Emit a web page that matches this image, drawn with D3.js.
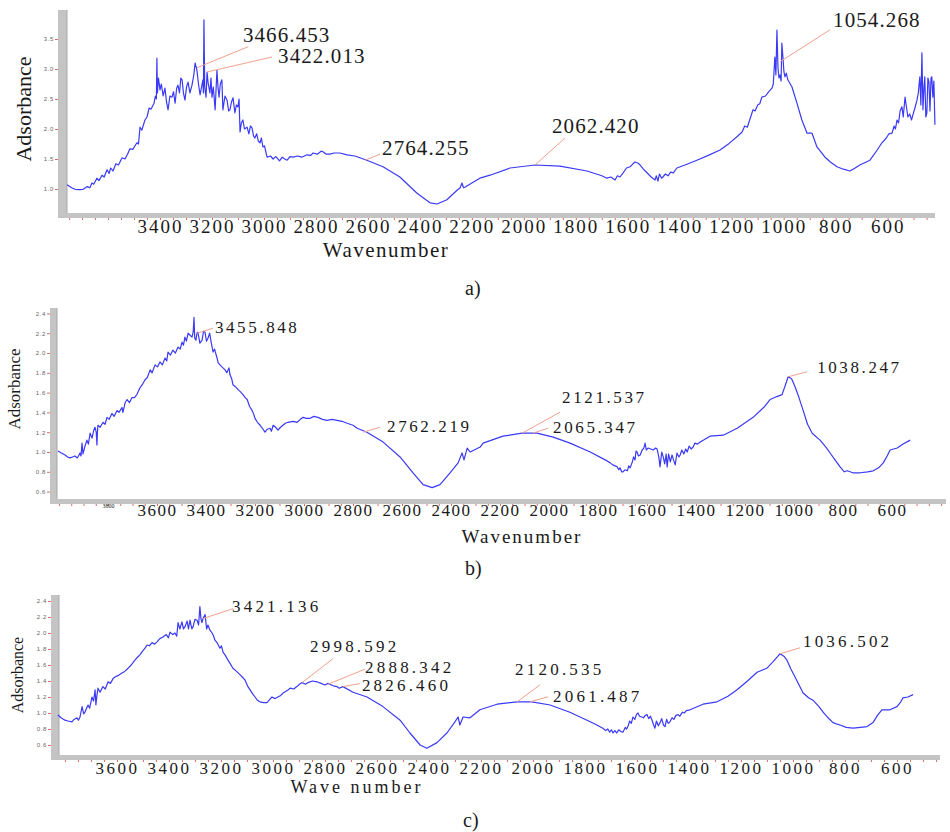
<!DOCTYPE html>
<html>
<head>
<meta charset="utf-8">
<script src="https://cdn.jsdelivr.net/npm/d3@7"></script>
<style>
  body { margin: 0; background: #fff; }
</style>
</head>
<body>
<script>
var SERIF = "'Liberation Serif', 'Times New Roman', 'DejaVu Serif', serif";

// Spectra: [wavenumber, absorbance]
var spectrumA = [
  [3758,1.07],[3740,1.02],[3727,0.995],[3710,0.99],[3696,0.995],[3680,1.04],[3670,1.02],[3662,1.10],
  [3655,1.08],[3643,1.18],[3635,1.14],[3623,1.23],[3615,1.20],[3604,1.32],[3596,1.26],[3590,1.35],
  [3581,1.30],[3570,1.42],[3560,1.40],[3546,1.52],[3535,1.50],[3525,1.58],[3516,1.67],[3505,1.66],
  [3489,1.77],[3483,1.75],[3477,2.03],[3470,1.98],[3458,2.15],[3450,2.20],[3442,2.35],[3435,2.33],
  [3423,2.43],[3418,2.55],[3414,2.50],[3412,3.18],[3410,2.60],[3406,2.85],[3400,2.65],[3395,2.75],
  [3388,2.55],[3381,2.68],[3375,2.45],[3369,2.32],[3362,2.55],[3354,2.53],[3348,2.62],[3342,2.43],
  [3336,2.68],[3331,2.73],[3325,2.60],[3320,2.85],[3315,2.82],[3310,2.60],[3304,2.48],[3298,2.70],
  [3292,2.78],[3285,2.60],[3277,2.73],[3270,2.90],[3265,3.10],[3258,2.98],[3252,2.75],[3246,2.57],
  [3240,2.70],[3235,2.82],[3233,2.60],[3231,3.82],[3228,2.70],[3223,2.53],[3219,2.95],[3215,2.77],
  [3208,2.60],[3204,2.85],[3200,2.53],[3195,2.70],[3188,2.32],[3185,2.60],[3181,2.98],[3177,2.70],
  [3173,2.53],[3168,2.75],[3162,2.82],[3158,2.32],[3150,2.55],[3142,2.48],[3136,2.30],[3131,2.32],
  [3125,2.45],[3119,2.52],[3112,2.27],[3106,2.40],[3100,2.37],[3096,2.50],[3092,1.95],[3087,2.10],
  [3081,2.15],[3075,2.00],[3065,2.03],[3058,1.92],[3052,2.05],[3046,2.02],[3040,1.88],[3035,1.85],
  [3028,1.92],[3022,1.80],[3015,1.77],[3010,1.85],[3004,1.70],[2998,1.72],[2988,1.53],[2975,1.55],
  [2965,1.50],[2955,1.54],[2950,1.52],[2940,1.47],[2930,1.53],[2920,1.50],[2911,1.48],[2900,1.54],
  [2888,1.53],[2870,1.55],[2855,1.53],[2834,1.57],[2820,1.56],[2811,1.60],[2795,1.58],[2780,1.63],
  [2773,1.62],[2760,1.58],[2746,1.58],[2730,1.60],[2708,1.60],[2680,1.57],[2650,1.55],[2604,1.48],
  [2542,1.37],[2477,1.20],[2411,0.93],[2361,0.77],[2334,0.75],[2296,0.82],[2257,0.98],[2245,1.02],
  [2238,1.10],[2232,1.02],[2227,1.03],[2200,1.10],[2169,1.18],[2130,1.23],[2053,1.35],[1957,1.40],
  [1861,1.38],[1757,1.30],[1700,1.22],[1680,1.18],[1665,1.20],[1649,1.15],[1640,1.22],[1630,1.20],
  [1618,1.27],[1605,1.35],[1591,1.37],[1580,1.42],[1572,1.45],[1560,1.43],[1553,1.40],[1540,1.33],
  [1526,1.27],[1510,1.20],[1495,1.15],[1490,1.22],[1484,1.13],[1478,1.25],[1470,1.18],[1465,1.20],
  [1455,1.25],[1445,1.22],[1435,1.28],[1425,1.27],[1411,1.35],[1380,1.40],[1334,1.48],[1290,1.56],
  [1245,1.65],[1210,1.76],[1180,1.87],[1160,1.95],[1150,2.05],[1140,2.03],[1118,2.32],[1110,2.30],
  [1100,2.40],[1092,2.42],[1084,2.53],[1070,2.55],[1058,2.62],[1045,2.68],[1040,2.75],[1034,3.20],
  [1030,2.90],[1026,3.65],[1022,3.02],[1018,2.85],[1014,2.90],[1010,2.80],[1007,3.43],[1003,3.20],
  [999,2.95],[995,2.87],[990,2.93],[984,2.82],[968,2.70],[949,2.43],[930,2.15],[910,1.93],
  [891,1.93],[872,1.70],[841,1.53],[820,1.45],[795,1.37],[770,1.33],[745,1.30],[725,1.35],
  [707,1.40],[668,1.48],[640,1.65],[622,1.77],[605,1.85],[595,1.92],[583,1.93],[575,2.05],
  [570,2.00],[564,2.15],[558,2.10],[552,2.30],[545,2.37],[540,2.20],[533,2.53],[527,2.35],
  [522,2.20],[515,2.25],[508,2.15],[503,2.23],[495,2.35],[487,2.48],[482,2.60],[476,2.87],
  [472,2.40],[468,3.27],[464,2.32],[460,2.70],[457,2.87],[453,2.20],[449,2.27],[445,2.85],
  [441,2.78],[437,2.30],[433,2.85],[430,2.87],[426,2.53],[422,2.80],[418,2.07]
];

var spectrumB = [
  [4004,1.01],[3990,0.99],[3975,0.97],[3965,0.95],[3955,0.94],[3945,0.95],[3935,0.96],[3925,0.94],
  [3914,0.99],[3910,0.96],[3906,1.09],[3902,0.98],[3895,1.05],[3886,1.12],[3880,1.08],[3873,1.19],
  [3865,1.14],[3858,1.22],[3853,1.25],[3848,1.20],[3845,1.07],[3843,1.20],[3841,1.27],[3832,1.25],
  [3820,1.30],[3812,1.28],[3804,1.35],[3795,1.33],[3784,1.39],[3775,1.36],[3763,1.42],[3755,1.40],
  [3743,1.45],[3739,1.40],[3730,1.50],[3722,1.53],[3712,1.50],[3702,1.55],[3692,1.55],[3682,1.58],
  [3675,1.62],[3669,1.65],[3660,1.68],[3649,1.73],[3640,1.75],[3628,1.83],[3620,1.80],[3608,1.88],
  [3598,1.86],[3588,1.91],[3578,1.88],[3567,1.95],[3560,1.92],[3555,2.01],[3545,1.98],[3535,2.03],
  [3525,2.00],[3514,2.06],[3505,2.04],[3498,2.11],[3492,2.08],[3486,2.16],[3480,2.12],[3473,2.20],
  [3465,2.18],[3457,2.16],[3452,2.22],[3449,2.36],[3446,2.15],[3441,2.13],[3437,2.20],[3433,2.21],
  [3425,2.10],[3416,2.13],[3410,2.22],[3404,2.21],[3398,2.12],[3392,2.15],[3385,2.20],[3379,2.11],
  [3371,2.01],[3365,2.04],[3355,1.95],[3350,1.90],[3343,1.88],[3335,1.86],[3322,1.83],[3315,1.80],
  [3306,1.85],[3302,1.78],[3295,1.74],[3290,1.68],[3280,1.66],[3269,1.63],[3260,1.61],[3249,1.58],
  [3240,1.55],[3232,1.53],[3222,1.46],[3212,1.42],[3205,1.38],[3200,1.34],[3190,1.30],[3179,1.27],
  [3170,1.24],[3159,1.20],[3150,1.23],[3139,1.24],[3133,1.21],[3126,1.27],[3116,1.25],[3106,1.22],
  [3096,1.25],[3086,1.27],[3076,1.29],[3065,1.30],[3045,1.31],[3028,1.30],[3015,1.33],[3004,1.35],
  [2990,1.34],[2975,1.34],[2960,1.36],[2943,1.35],[2925,1.33],[2906,1.32],[2885,1.33],[2865,1.32],
  [2845,1.31],[2824,1.29],[2800,1.27],[2783,1.24],[2743,1.20],[2677,1.10],[2608,0.95],[2555,0.79],
  [2514,0.67],[2477,0.64],[2445,0.67],[2404,0.79],[2371,0.89],[2355,0.99],[2347,0.92],[2334,1.04],
  [2322,1.00],[2281,1.05],[2269,1.09],[2188,1.16],[2110,1.19],[2049,1.19],[1983,1.15],[1914,1.09],
  [1832,1.00],[1763,0.91],[1750,0.89],[1740,0.87],[1730,0.86],[1722,0.85],[1715,0.82],[1710,0.84],
  [1704,0.80],[1698,0.80],[1690,0.82],[1680,0.81],[1675,0.86],[1669,0.84],[1660,0.90],[1655,0.95],
  [1649,0.92],[1645,1.01],[1641,1.00],[1635,0.96],[1628,0.97],[1620,1.02],[1613,1.04],[1608,1.09],
  [1603,1.02],[1596,1.04],[1585,1.03],[1575,1.02],[1565,1.04],[1559,1.03],[1552,0.95],[1547,0.85],
  [1540,1.00],[1534,0.95],[1528,0.88],[1522,0.98],[1518,0.85],[1512,0.98],[1505,0.90],[1498,0.97],
  [1492,0.92],[1485,0.87],[1478,0.99],[1470,0.95],[1465,0.97],[1458,1.02],[1450,0.98],[1442,1.03],
  [1436,1.00],[1428,1.06],[1420,1.03],[1412,1.05],[1405,1.09],[1395,1.08],[1383,1.10],[1343,1.16],
  [1289,1.17],[1232,1.24],[1167,1.35],[1120,1.46],[1098,1.53],[1070,1.56],[1049,1.58],[1035,1.68],
  [1024,1.76],[1010,1.74],[996,1.66],[980,1.55],[963,1.42],[945,1.28],[926,1.19],[894,1.12],
  [870,1.05],[853,0.99],[830,0.91],[812,0.85],[795,0.80],[783,0.81],[760,0.79],[730,0.79],
  [700,0.80],[677,0.81],[655,0.84],[636,0.89],[620,0.96],[608,1.02],[579,1.04],[555,1.08],[526,1.12]
];

var spectrumC = [
  [3827,0.975],[3815,0.94],[3800,0.91],[3788,0.90],[3773,0.89],[3765,0.92],[3754,0.94],[3748,0.91],
  [3742,0.95],[3734,1.08],[3728,0.99],[3723,1.01],[3718,1.05],[3711,1.10],[3705,1.06],[3696,1.20],
  [3690,1.15],[3684,1.29],[3681,1.10],[3677,1.22],[3673,1.31],[3665,1.26],[3654,1.33],[3645,1.30],
  [3634,1.39],[3625,1.37],[3615,1.43],[3607,1.45],[3595,1.47],[3581,1.50],[3570,1.52],[3557,1.56],
  [3545,1.60],[3531,1.66],[3520,1.70],[3511,1.73],[3500,1.78],[3492,1.81],[3484,1.85],[3475,1.84],
  [3465,1.88],[3455,1.86],[3446,1.89],[3435,1.93],[3423,1.95],[3410,1.98],[3402,1.94],[3396,2.01],
  [3385,1.98],[3377,2.00],[3370,1.96],[3365,2.13],[3358,2.05],[3350,2.14],[3344,2.05],[3338,2.08],
  [3330,2.15],[3325,2.05],[3319,2.16],[3312,2.05],[3307,2.08],[3300,2.17],[3292,2.16],[3286,2.10],
  [3281,2.33],[3277,2.18],[3273,2.13],[3269,2.18],[3261,2.23],[3255,2.05],[3250,2.10],[3243,2.04],
  [3234,2.00],[3228,1.96],[3223,1.91],[3215,1.88],[3204,1.81],[3198,1.84],[3192,1.76],[3183,1.72],
  [3173,1.66],[3165,1.62],[3154,1.56],[3140,1.52],[3127,1.48],[3118,1.45],[3107,1.41],[3098,1.34],
  [3088,1.29],[3078,1.24],[3069,1.20],[3060,1.16],[3050,1.14],[3035,1.13],[3023,1.13],[3012,1.17],
  [3004,1.20],[2992,1.18],[2981,1.20],[2970,1.22],[2961,1.25],[2945,1.28],[2934,1.31],[2920,1.30],
  [2908,1.33],[2898,1.36],[2888,1.38],[2875,1.36],[2865,1.38],[2848,1.40],[2831,1.39],[2815,1.37],
  [2800,1.35],[2788,1.37],[2781,1.36],[2768,1.34],[2754,1.33],[2745,1.31],[2731,1.33],[2692,1.26],
  [2638,1.20],[2577,1.08],[2511,0.91],[2473,0.75],[2434,0.60],[2408,0.56],[2369,0.63],[2331,0.75],
  [2300,0.89],[2288,0.95],[2281,0.85],[2269,0.95],[2242,0.94],[2204,1.04],[2138,1.11],[2061,1.14],
  [2004,1.14],[1934,1.10],[1858,1.01],[1792,0.91],[1760,0.86],[1731,0.81],[1720,0.78],[1712,0.80],
  [1705,0.76],[1698,0.79],[1692,0.75],[1685,0.78],[1678,0.75],[1670,0.79],[1663,0.77],[1654,0.76],
  [1645,0.82],[1640,0.80],[1635,0.83],[1628,0.90],[1622,0.87],[1615,0.95],[1608,0.92],[1602,0.98],
  [1596,1.00],[1590,0.96],[1581,0.95],[1575,0.94],[1568,0.97],[1561,0.98],[1555,0.93],[1548,0.96],
  [1542,0.91],[1537,0.86],[1531,0.81],[1525,0.90],[1518,0.84],[1511,0.88],[1505,0.93],[1498,0.85],
  [1492,0.83],[1486,0.92],[1480,0.87],[1473,0.89],[1465,0.94],[1458,0.92],[1450,0.97],[1442,0.98],
  [1435,0.96],[1425,1.01],[1418,1.00],[1410,1.03],[1396,1.04],[1346,1.11],[1292,1.14],[1250,1.21],
  [1215,1.29],[1175,1.40],[1138,1.51],[1100,1.56],[1077,1.64],[1050,1.74],[1035,1.71],[1023,1.66],
  [1008,1.55],[992,1.45],[975,1.34],[961,1.25],[940,1.19],[923,1.16],[900,1.08],[884,1.01],
  [865,0.94],[846,0.88],[830,0.86],[819,0.85],[795,0.82],[769,0.81],[740,0.82],[715,0.83],
  [692,0.88],[675,0.97],[658,1.04],[640,1.04],[627,1.04],[600,1.08],[585,1.14],[577,1.19],
  [558,1.20],[538,1.23]
];

// Tick labels
var xTicksA = [3400,3200,3000,2800,2600,2400,2200,2000,1800,1600,1400,1200,1000,800,600];
var xTicksB = [3800,3600,3400,3200,3000,2800,2600,2400,2200,2000,1800,1600,1400,1200,1000,800,600];
var xTicksC = [3600,3400,3200,3000,2800,2600,2400,2200,2000,1800,1600,1400,1200,1000,800,600];
var yTicksA = [1.0,1.5,2.0,2.5,3.0,3.5];
var yTicksB = [0.6,0.8,1.0,1.2,1.4,1.6,1.8,2.0,2.2,2.4];
var yTicksC = [0.6,0.8,1.0,1.2,1.4,1.6,1.8,2.0,2.2,2.4];

// Peak labels: [text, wavenumber of marked point, absorbance of marked point]
var peaksA = [["3466.453",3258,3.02],["3422.013",3219,2.95],["2764.255",2611,1.48],
              ["2062.420",1957,1.40],["1054.268",1014,3.12]];
var peaksB = [["3455.848",3437,2.20],["2762.219",2759,1.20],["2121.537",2110,1.19],
              ["2065.347",2065,1.19],["1038.247",1024,1.76]];
var peaksC = [["3421.136",3269,2.18],["2998.592",2888,1.38],["2888.342",2788,1.36],
              ["2826.460",2731,1.33],["2120.535",2061,1.14],["2061.487",2011,1.14],
              ["1036.502",1050,1.74]];

// Layout of the three panels
var panels = [
  {data: spectrumA, peaks: peaksA, xTicks: xTicksA, yTicks: yTicksA,
   xDomain: [3758, 410], xRange: [67, 937], yDomain: [0.6, 3.983], yRange: [213, 10],
   barX: 58, barW: 9, barTop: 10, barBottom: 218, xEnd: 935,
   tickFont: 19, tickSpacing: 2, tickPad: 1,
   peakFont: 21, peakSpacing: 1.1,
   // [line end dx, dy from point, text dx, dy from line end]
   peakOffsets: [[51,-21,-5,-5],[65,-15,6,6],[15,-6,2,1],[30,-27,-13,-5],[50,-32,3,-3]],
   yTitle: {x: 31, y: 109, size: 22}, xTitle: {text: "Wavenumber", x: 386, y: 257, size: 21, spacing: 1.5},
   caption: {text: "a)", x: 465, y: 295}},
  {data: spectrumB, peaks: peaksB, xTicks: xTicksB, yTicks: yTicksB,
   xDomain: [4004, 384], xRange: [58, 945], yDomain: [0.525, 2.455], yRange: [499, 308],
   barX: 50, barW: 7, barTop: 308, barBottom: 504, xEnd: 946,
   tickFont: 17, tickSpacing: 1.5, tickPad: 0,
   peakFont: 17, peakSpacing: 2.6,
   peakOffsets: [[16,-5,2,5],[17,-5,7,5],[38,-21,2,-9],[15,-5,5,5],[19,-5,10,1]],
   yTitle: {x: 20, y: 389, size: 17}, xTitle: {text: "Wavenumber", x: 522, y: 543, size: 19, spacing: 2},
   caption: {text: "b)", x: 465, y: 575}},
  {data: spectrumC, peaks: peaksC, xTicks: xTicksC, yTicks: yTicksC,
   xDomain: [3819, 446], xRange: [60, 937], yDomain: [0.475, 2.475], yRange: [755, 595],
   barX: 51, barW: 8, barTop: 595, barBottom: 760, xEnd: 940,
   tickFont: 17, tickSpacing: 2.5, tickPad: 2,
   peakFont: 17, peakSpacing: 3.2,
   peakOffsets: [[30,-10,-1,3],[31,-24,-23,-7],[37,-15,0,4],[17,-3,2,7],[23,-17,-25,-10],[18,-5,5,5],[20,-6,3,-1]],
   yTitle: {x: 23, y: 675, size: 16}, xTitle: {text: "Wave number", x: 357, y: 793, size: 18, spacing: 3},
   caption: {text: "c)", x: 463, y: 827}}
];

var svg = d3.select("body").append("svg")
  .attr("width", 950)
  .attr("height", 832);

svg.append("rect").attr("width", 950).attr("height", 832).attr("fill", "#fff");

panels.forEach(function(p) {
  drawPanel(p);
});

function drawPanel(p) {
  var x = d3.scaleLinear().domain(p.xDomain).range(p.xRange);
  var y = d3.scaleLinear().domain(p.yDomain).range(p.yRange);
  var g = svg.append("g");

  // Grey frame bars (left and bottom)
  g.append("rect")
   .attr("x", p.barX).attr("y", p.barTop)
   .attr("width", p.barW).attr("height", p.barBottom - p.barTop)
   .attr("fill", "#c4c4c4");
  g.append("rect")
   .attr("x", p.barX).attr("y", p.barBottom - 5)
   .attr("width", p.xEnd - p.barX).attr("height", 5)
   .attr("fill", "#c4c4c4");
  g.append("line")
   .attr("x1", p.barX + p.barW).attr("x2", p.barX + p.barW)
   .attr("y1", p.barTop).attr("y2", p.barBottom - 5)
   .attr("stroke", "#a8a8a8");

  // Red minor ticks under the bottom bar
  var lo = Math.ceil(p.xDomain[1] / 50) * 50;
  var minor = d3.range(lo, p.xDomain[0], 50);
  var minorAxis = g.append("g")
    .attr("transform", "translate(0," + p.barBottom + ")")
    .call(d3.axisBottom(x).tickValues(minor).tickSize(2).tickFormat(""));
  minorAxis.select(".domain").remove();
  minorAxis.selectAll("line").attr("stroke", "#e06a6a").attr("stroke-width", 1);

  // Wavenumber tick labels
  var xAxis = g.append("g")
    .attr("transform", "translate(0," + p.barBottom + ")")
    .call(d3.axisBottom(x).tickValues(p.xTicks).tickSize(0).tickPadding(p.tickPad)
            .tickFormat(d3.format("d")));
  xAxis.select(".domain").remove();
  xAxis.selectAll("text")
    .style("font-family", SERIF)
    .style("font-size", function(d) { return d == 3800 ? "6px" : p.tickFont + "px"; })
    .style("letter-spacing", function(d) { return d == 3800 ? "0px" : p.tickSpacing + "px"; })
    .attr("fill", "#1a1a1a");

  // Tiny absorbance ticks
  var yAxis = g.append("g")
    .attr("transform", "translate(" + p.barX + ",0)")
    .call(d3.axisLeft(y).tickValues(p.yTicks).tickSize(3).tickPadding(1).tickFormat(d3.format(".1f")));
  yAxis.select(".domain").remove();
  yAxis.selectAll("line").attr("stroke", "#e06a6a");
  yAxis.selectAll("text")
    .style("font-family", "'Liberation Sans', Arial, sans-serif")
    .style("font-size", "6px")
    .style("letter-spacing", "0.6px")
    .attr("fill", "#666");

  // Spectrum
  var line = d3.line()
    .x(function(d) { return x(d[0]); })
    .y(function(d) { return y(d[1]); });
  g.append("path")
   .datum(p.data)
   .attr("d", line)
   .attr("fill", "none")
   .attr("stroke", "#3a3af6")
   .attr("stroke-width", 1.2)
   .attr("stroke-linejoin", "round");

  // Peak labels with leader lines
  p.peaks.forEach(function(pk, i) {
    var o = p.peakOffsets[i];
    var px = x(pk[1]), py = y(pk[2]);
    g.append("line")
     .attr("x1", px).attr("y1", py)
     .attr("x2", px + o[0]).attr("y2", py + o[1])
     .attr("stroke", "#f2a08c").attr("stroke-width", 1);
    g.append("text")
     .attr("x", px + o[0] + o[2]).attr("y", py + o[1] + o[3])
     .style("font-family", SERIF)
     .style("font-size", p.peakFont + "px")
     .style("letter-spacing", p.peakSpacing + "px")
     .attr("fill", "#1a1a1a")
     .text(pk[0]);
  });

  // Axis titles
  g.append("text")
   .attr("transform", "translate(" + p.yTitle.x + "," + p.yTitle.y + ") rotate(-90)")
   .attr("text-anchor", "middle")
   .style("font-family", SERIF)
   .style("font-size", p.yTitle.size + "px")
   .attr("fill", "#1a1a1a")
   .text("Adsorbance");
  g.append("text")
   .attr("x", p.xTitle.x).attr("y", p.xTitle.y)
   .attr("text-anchor", "middle")
   .style("font-family", SERIF)
   .style("font-size", p.xTitle.size + "px")
   .style("letter-spacing", p.xTitle.spacing + "px")
   .attr("fill", "#1a1a1a")
   .text(p.xTitle.text);

  // Panel caption
  g.append("text")
   .attr("x", p.caption.x).attr("y", p.caption.y)
   .style("font-family", SERIF)
   .style("font-size", "20px")
   .attr("fill", "#1a1a1a")
   .text(p.caption.text);
}
</script>
</body>
</html>
